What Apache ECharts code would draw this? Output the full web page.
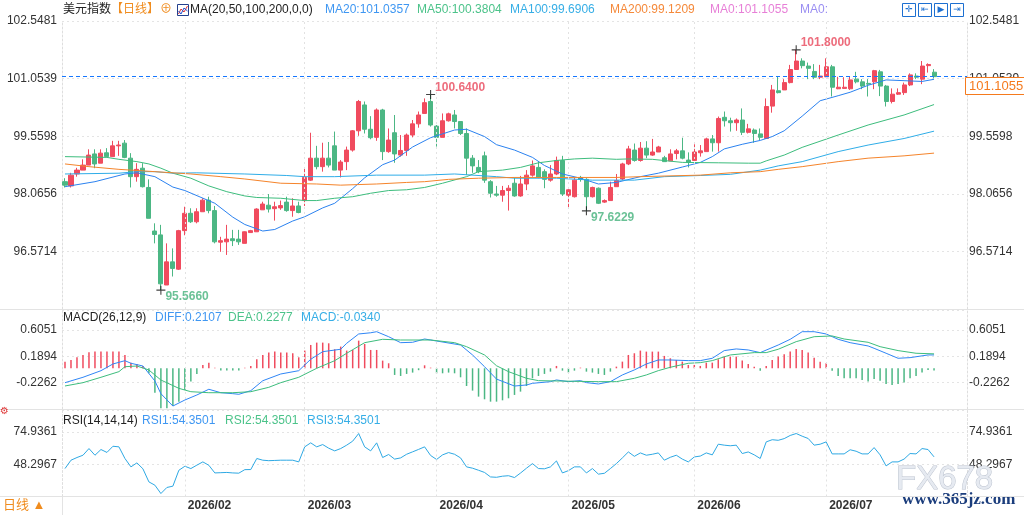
<!DOCTYPE html>
<html><head><meta charset="utf-8">
<script src="https://cdn.jsdelivr.net/npm/echarts/dist/echarts.min.js"></script>
<style>html,body{margin:0;padding:0;background:#fff}#c{width:1024px;height:515px}</style>
</head><body><div id="c"></div>
<script>
// ---------- data ----------
const startDate = '2026-01-05';
const extraSlots = 5;
const open = [98.38,98.27,98.58,98.68,98.81,99.10,98.86,99.13,99.03,99.31,
99.38,98.99,98.51,98.73,98.23,97.10,97.00,95.70,96.30,96.11,
97.11,97.56,97.34,97.60,97.90,97.63,96.81,96.82,96.90,96.89,
96.78,97.06,97.08,97.65,97.77,97.68,97.70,97.85,97.63,97.75,
97.89,98.42,98.99,98.77,98.99,99.31,98.68,98.90,99.20,99.70,
100.37,99.74,99.53,100.24,99.16,99.65,99.07,99.19,99.59,99.88,
100.15,100.46,99.82,99.53,99.96,100.11,99.94,99.63,98.99,98.75,
99.05,98.38,98.06,98.03,98.15,98.34,98.01,98.32,98.55,98.75,
98.64,98.42,98.58,98.93,98.03,97.99,98.49,98.44,97.99,98.21,
97.85,97.89,98.25,98.45,98.84,99.20,98.93,99.25,99.07,99.15,
99.00,98.92,99.11,99.18,98.94,98.93,99.13,99.16,99.49,99.39,
100.05,99.96,99.91,99.98,99.66,99.72,99.62,99.50,100.34,100.74,
100.76,100.95,101.29,101.51,101.38,101.24,101.09,101.10,101.36,100.79,
100.80,100.79,101.04,100.97,100.93,100.97,101.23,100.86,100.46,100.65,
100.69,100.89,101.12,101.04,101.39,101.22];
const close = [98.29,98.55,98.68,98.81,99.07,98.84,99.12,99.03,99.31,99.33,
99.01,98.51,98.70,98.25,97.43,97.01,95.73,96.30,96.13,97.11,
97.56,97.34,97.60,97.90,97.63,96.82,96.85,96.89,96.85,96.82,
97.08,97.11,97.67,97.80,97.67,97.73,97.76,97.63,97.75,97.58,
98.49,98.99,98.77,98.99,98.81,98.68,98.89,99.20,99.70,100.46,
99.74,99.52,100.24,99.16,99.46,99.10,99.19,99.59,99.88,100.11,
100.43,99.85,99.53,99.96,100.14,99.94,99.63,98.99,98.79,98.64,
98.42,98.08,98.03,98.15,98.21,98.01,98.32,98.55,98.79,98.49,
98.44,98.58,98.93,98.06,98.17,98.42,98.44,97.99,98.23,97.82,
97.89,98.23,98.41,98.84,99.23,98.93,99.25,99.07,99.15,99.28,
98.90,99.10,99.18,98.99,98.88,99.15,99.18,99.49,99.39,100.02,
99.96,99.91,99.98,99.66,99.75,99.63,99.53,100.33,100.76,100.69,
100.95,101.29,101.51,101.39,101.32,101.09,101.12,101.36,100.83,100.83,
100.83,101.02,100.97,100.86,100.91,101.26,100.86,100.46,100.65,100.69,
100.89,101.15,101.09,101.38,101.42,101.1055];
const low = [98.23,98.23,98.51,98.68,98.81,98.73,98.86,99.03,99.03,99.05,
98.99,98.23,98.38,98.23,97.43,96.78,95.566,95.70,95.92,96.09,
96.99,97.31,97.30,97.60,97.56,96.78,96.56,96.48,96.71,96.74,
96.78,97.06,97.08,97.65,97.58,97.37,97.65,97.60,97.47,97.56,
97.75,98.40,98.70,98.64,98.75,98.68,98.49,98.68,99.16,99.57,
99.63,99.48,99.44,98.94,99.13,98.87,99.03,99.05,99.53,99.78,
100.15,99.81,99.29,99.53,99.94,99.76,99.59,98.55,98.61,98.60,
98.35,97.97,97.99,97.86,97.63,97.99,97.99,98.16,98.51,98.47,
98.21,98.38,98.55,98.01,97.72,97.97,98.38,97.6229,97.97,97.80,
97.83,97.89,98.25,98.42,98.81,98.90,98.90,98.99,99.05,99.15,
98.90,98.92,98.96,98.96,98.75,98.92,99.03,99.16,99.16,99.16,
99.81,99.68,99.70,99.59,99.63,99.39,99.46,99.50,100.17,100.67,
100.76,100.93,101.29,101.32,101.04,101.04,101.04,101.10,100.59,100.78,
100.79,100.76,100.93,100.78,100.59,100.78,100.60,100.33,100.41,100.63,
100.63,100.86,101.04,100.91,101.21,101.06];
const high = [98.47,98.61,98.74,98.96,99.22,99.22,99.22,99.25,99.44,99.44,
99.46,99.12,98.86,98.86,98.44,97.30,97.26,96.78,96.65,97.13,
97.73,97.69,97.69,97.95,97.99,97.75,96.95,97.26,97.13,97.13,
97.09,97.13,97.69,97.86,98.06,97.86,97.89,97.99,97.95,97.86,
98.73,99.65,99.31,99.39,99.41,99.68,98.94,99.29,99.72,100.50,
100.46,100.08,100.28,100.27,99.76,100.11,99.59,99.63,99.98,100.20,
100.54,100.64,99.85,100.15,100.17,100.24,99.94,99.76,99.07,98.94,
99.16,98.42,98.27,98.27,98.29,98.49,98.53,98.68,98.93,98.90,
98.70,98.81,99.03,99.05,98.21,98.49,98.53,98.47,98.25,98.23,
97.92,98.38,98.58,98.87,99.31,99.37,99.41,99.43,99.49,99.31,
99.05,99.22,99.23,99.52,99.14,99.35,99.33,99.52,99.59,100.07,
100.20,100.04,100.02,100.28,99.88,99.76,99.76,100.54,100.89,101.10,
101.04,101.41,101.80,101.58,101.47,101.43,101.41,101.58,101.41,101.10,
101.09,101.10,101.23,101.04,101.04,101.28,101.28,100.89,100.80,100.80,
100.95,101.19,101.19,101.51,101.45,101.30];

// moving averages: [candle index, value]
const ma20 = [[0,98.25],[5,98.38],[10,98.58],[12,98.61],[15,98.51],[18,98.24],[20,98.15],[25,97.82],[28,97.46],[30,97.27],[33,97.10],[35,97.14],[38,97.36],[40,97.47],[43,97.70],[45,97.82],[48,98.20],[50,98.48],[53,98.82],[55,98.94],[58,99.28],[61,99.52],[65,99.72],[67,99.74],[70,99.55],[72,99.34],[75,99.20],[78,99.01],[80,98.80],[83,98.58],[86,98.47],[89,98.32],[92,98.36],[96,98.51],[99,98.60],[103,98.76],[106,98.88],[108,99.03],[110,99.23],[113,99.35],[116,99.45],[118,99.55],[120,99.70],[123,100.08],[126,100.48],[129,100.61],[131,100.70],[134,100.88],[137,101.02],[140,101.00],[143,100.98],[145,101.0357]];
const ma50 = [[0,99.03],[7,99.01],[9,98.96],[12,98.90],[14,98.84],[16,98.73],[18,98.60],[21,98.47],[24,98.27],[27,98.12],[30,98.01],[32,97.97],[36,97.95],[40,97.89],[42,97.89],[45,97.95],[48,97.99],[51,98.08],[54,98.15],[57,98.17],[60,98.23],[63,98.34],[67,98.51],[69,98.64],[73,98.68],[76,98.75],[79,98.87],[82,98.93],[85,98.97],[88,98.99],[92,98.96],[94,98.97],[98,98.96],[103,98.88],[109,98.87],[114,98.86],[116,98.86],[117,98.92],[120,99.07],[123,99.27],[129,99.59],[134,99.85],[140,100.11],[145,100.3804]];
const ma100 = [[0,98.58],[9,98.60],[12,98.64],[15,98.64],[18,98.60],[22,98.61],[30,98.58],[37,98.54],[40,98.51],[45,98.51],[52,98.55],[60,98.55],[65,98.58],[72,98.51],[75,98.47],[82,98.47],[88,98.42],[95,98.42],[100,98.51],[106,98.54],[111,98.57],[116,98.68],[119,98.79],[123,98.90],[129,99.16],[134,99.33],[140,99.50],[145,99.6906]];
const ma200 = [[0,98.84],[4,98.77],[9,98.70],[15,98.64],[21,98.58],[26,98.51],[30,98.45],[36,98.34],[42,98.32],[46,98.29],[52,98.32],[57,98.36],[60,98.38],[64,98.44],[69,98.47],[75,98.49],[82,98.49],[92,98.49],[96,98.51],[106,98.55],[111,98.61],[116,98.64],[119,98.70],[123,98.77],[129,98.90],[134,98.99],[140,99.05],[145,99.1209]];

// MACD
const macdHist = [0.105,0.131,0.173,0.210,0.252,0.263,0.263,0.263,0.263,0.263,
0.210,0.089,0.068,0.037,-0.079,-0.384,-0.631,-0.631,-0.594,-0.526,
-0.342,-0.210,-0.089,0.053,0.089,0.010,-0.035,-0.035,-0.035,-0.035,
0.010,0.037,0.142,0.210,0.247,0.263,0.247,0.247,0.237,0.173,
0.279,0.368,0.405,0.405,0.394,0.300,0.342,0.279,0.289,0.436,
0.384,0.289,0.289,0.121,0.079,-0.105,-0.121,-0.089,-0.068,-0.030,
0.047,0.010,-0.079,-0.079,-0.068,-0.079,-0.142,-0.279,-0.352,-0.447,
-0.489,-0.526,-0.526,-0.505,-0.473,-0.420,-0.368,-0.279,-0.158,-0.121,
-0.089,-0.053,0.037,-0.037,-0.068,-0.037,0.010,-0.053,-0.068,-0.089,
-0.105,-0.053,0.026,0.105,0.210,0.237,0.279,0.263,0.263,0.263,
0.195,0.158,0.131,0.105,0.053,0.053,0.037,0.089,0.089,0.142,
0.184,0.184,0.184,0.121,0.068,0.026,-0.037,0.037,0.131,0.184,
0.221,0.263,0.305,0.289,0.247,0.168,0.105,0.079,-0.037,-0.121,
-0.158,-0.158,-0.158,-0.184,-0.210,-0.168,-0.195,-0.247,-0.263,-0.247,
-0.226,-0.158,-0.121,-0.068,-0.026,-0.034];
const diff = [[0,-0.227],[3,-0.142],[6,-0.038],[8,0.068],[10,0.120],[11,0.079],[13,0.036],[15,-0.20],[16,-0.40],[18,-0.595],[20,-0.50],[22,-0.421],[24,-0.331],[26,-0.385],[28,-0.40],[29,-0.41],[31,-0.353],[33,-0.196],[36,-0.090],[39,-0.038],[41,0.142],[43,0.262],[46,0.300],[47,0.394],[49,0.541],[51,0.56],[52,0.577],[54,0.498],[56,0.404],[58,0.41],[60,0.462],[62,0.43],[66,0.367],[68,0.21],[70,0.025],[72,-0.17],[75,-0.28],[77,-0.263],[78,-0.237],[81,-0.211],[82,-0.184],[84,-0.211],[86,-0.195],[87,-0.226],[89,-0.247],[91,-0.211],[93,-0.105],[95,-0.026],[97,0.068],[99,0.131],[101,0.131],[104,0.121],[106,0.121],[108,0.158],[110,0.279],[112,0.305],[114,0.289],[116,0.247],[119,0.367],[121,0.457],[123,0.577],[125,0.577],[127,0.541],[129,0.457],[131,0.404],[134,0.352],[135,0.315],[137,0.237],[139,0.158],[141,0.168],[144,0.21],[145,0.2107]];
const dea = [[0,-0.279],[3,-0.227],[6,-0.142],[9,-0.053],[10,0.025],[12,0.036],[14,-0.027],[16,-0.185],[19,-0.316],[21,-0.369],[24,-0.385],[28,-0.385],[31,-0.369],[34,-0.30],[36,-0.227],[39,-0.142],[42,0.0],[45,0.120],[47,0.237],[50,0.404],[53,0.457],[56,0.446],[61,0.446],[65,0.404],[67,0.341],[70,0.21],[72,0.04],[74,-0.053],[77,-0.158],[79,-0.195],[85,-0.205],[89,-0.211],[92,-0.211],[95,-0.158],[97,-0.105],[99,-0.037],[101,0.016],[104,0.079],[106,0.089],[108,0.121],[111,0.21],[115,0.247],[117,0.247],[119,0.30],[122,0.42],[125,0.498],[128,0.51],[130,0.462],[134,0.41],[136,0.341],[139,0.279],[142,0.237],[145,0.2277]];

// RSI
const rsi = [44.7,51.6,53.8,55.7,61.2,55.7,60.4,58.0,63.1,62.6,
53.0,46.1,49.4,44.5,33.7,31.0,24.1,29.1,30.2,43.3,
46.6,44.7,47.5,50.2,47.4,41.1,41.3,41.5,41.1,40.9,
43.8,43.9,53.0,51.6,51.2,51.4,51.6,51.6,51.6,50.2,
62.6,65.9,62.6,64.5,61.5,59.3,61.2,64.0,67.3,73.6,
62.6,59.3,65.9,53.8,56.3,52.5,53.5,56.5,58.5,60.5,
62.6,55.5,52.2,56.0,57.9,56.5,53.5,46.1,45.0,43.3,
41.5,37.8,37.5,38.4,38.8,37.3,41.0,45.0,48.8,44.7,
44.5,46.1,51.0,41.1,43.0,46.1,46.1,41.1,44.7,40.1,
40.8,44.7,48.8,53.5,58.4,54.8,57.6,55.7,56.5,57.6,
51.6,54.0,55.7,52.5,50.2,54.3,55.0,57.6,56.0,64.8,
64.0,63.5,64.0,57.1,58.4,56.0,53.0,66.7,68.5,68.0,
69.4,72.0,73.6,71.4,69.5,64.0,64.8,66.7,56.8,56.8,
56.8,60.2,59.0,56.8,56.8,62.0,56.0,46.9,50.2,50.2,
52.5,57.1,56.8,61.2,60.4,54.35];

// tick labels
const mainTicks = ['102.5481','101.0539','99.5598','98.0656','96.5714'];
const macdTicks = ['0.6051','0.1894','-0.2262'];
const rsiTicks = ['74.9361','48.2967'];

// highlighted extremes: candle index and kind
const markIdx = [122, 61, 87, 16];
const markKind = ['high','high','low','low'];

// legend values
const maLegend = ['MA20:101.0357','MA50:100.3804','MA100:99.6906','MA200:99.1209','MA0:101.1055','MA0:'];
const macdLegend = ['DIFF:0.2107','DEA:0.2277','MACD:-0.0340'];
const rsiLegend = ['RSI1:54.3501','RSI2:54.3501','RSI3:54.3501'];

// ---------- build ----------
function tradingDays(start, n){
  const out=[]; const d=new Date(start+'T00:00:00Z');
  while(out.length<n){ const w=d.getUTCDay(); if(w!==0&&w!==6) out.push(d.toISOString().slice(0,10)); d.setUTCDate(d.getUTCDate()+1); }
  return out;
}
const dates = tradingDays(startDate, open.length + extraSlots);
const monthStarts = [];
for(let i=1;i<open.length;i++){ if(dates[i].slice(5,7)!==dates[i-1].slice(5,7)) monthStarts.push(i); }
const isMonthStart = i => monthStarts.indexOf(i) >= 0;

const FF = '"Liberation Sans", Arial, "Noto Sans CJK SC", sans-serif';
const RED = '#f04b5e', GREEN = '#4cb784';
const lastClose = close[close.length-1];

function tickFmt(list){ return function(v){ for(const t of list){ if(Math.abs(v-parseFloat(t))<0.002) return t; } return ''; }; }
function yAx(gi, pos, min, max, interval, ticks, split){
  return {type:'value', gridIndex:gi, position:pos, min:min, max:max, interval:interval,
    axisLine:{show:true, lineStyle:{color:'#dedede', type:[2,2], width:1}},
    axisTick:{show:false},
    splitLine:{show:split, lineStyle:{color:'#e4e4e4', type:[2,3], width:1}},
    axisLabel:{show:true, color:'#333', fontSize:12, fontFamily:FF, margin:(pos==='left'?5:2),
      showMinLabel:true, showMaxLabel:true, formatter:tickFmt(ticks)}};
}
function xAx(gi, showLabel){
  return {type:'category', gridIndex:gi, data:dates, boundaryGap:true,
    axisLine:{show:false}, axisTick:{show:false}, splitLine:{show:false},
    axisLabel: showLabel ? {show:true, interval:function(i){return isMonthStart(i);}, align:'left',
      padding:[0,0,0,3], margin:3, color:'#333', fontSize:12, fontWeight:'bold', fontFamily:FF,
      formatter:function(v){return v.slice(0,4)+'/'+v.slice(5,7);}} : {show:false}};
}
const monthLineData = monthStarts.map(i => ({xAxis: dates[i], lineStyle:{color:'#e2e2e2', type:[2,3], width:1}}));
function monthMark(extra){
  return {silent:true, symbol:['none','none'], label:{show:false}, animation:false,
    data: monthLineData.concat(extra||[])};
}

const plusPath = 'path://M0,4.4H10V5.6H0Z M4.4,0H5.6V10H4.4Z';

const option = {
  animation:false,
  backgroundColor:'#fff',
  grid:[
    {left:62, right:57, top:21, height:288, containLabel:false, outerBoundsMode:'none'},
    {left:62, right:57, top:310, height:99, containLabel:false, outerBoundsMode:'none'},
    {left:62, right:57, top:410, height:86.5, containLabel:false, outerBoundsMode:'none'}
  ],
  xAxis:[xAx(0,false), xAx(1,false), xAx(2,true)],
  yAxis:[
    yAx(0,'left',95.0772,102.5482,1.4942,mainTicks,true),
    yAx(0,'right',95.0772,102.5482,1.4942,mainTicks,false),
    yAx(1,'left',-0.6419,0.919,0.4157,macdTicks,true),
    yAx(1,'right',-0.6419,0.919,0.4157,macdTicks,false),
    yAx(2,'left',21.6573,93.0,26.6394,rsiTicks,true),
    yAx(2,'right',21.6573,93.0,26.6394,rsiTicks,false)
  ],
  series:[
    {type:'candlestick', xAxisIndex:0, yAxisIndex:0, barWidth:'76%',
      data: open.map((o,i)=>[o, close[i], low[i], high[i]]),
      itemStyle:{color:RED, color0:GREEN, borderColor:RED, borderColor0:GREEN, borderWidth:1},
      markLine: monthMark([{yAxis:lastClose, lineStyle:{color:'#1677ff', type:[4,3], width:1.2}}])},
    {type:'line', name:'MA20', xAxisIndex:0, yAxisIndex:0, data:ma20, showSymbol:false, lineStyle:{color:'#2b82f0', width:1}, z:3},
    {type:'line', name:'MA50', xAxisIndex:0, yAxisIndex:0, data:ma50, showSymbol:false, lineStyle:{color:'#3dbd7d', width:1}, z:3},
    {type:'line', name:'MA100', xAxisIndex:0, yAxisIndex:0, data:ma100, showSymbol:false, lineStyle:{color:'#2fade8', width:1}, z:3},
    {type:'line', name:'MA200', xAxisIndex:0, yAxisIndex:0, data:ma200, showSymbol:false, lineStyle:{color:'#f5842b', width:1}, z:3},
    {type:'scatter', xAxisIndex:0, yAxisIndex:0, symbol:plusPath, symbolSize:9, z:6,
      itemStyle:{color:'#111'},
      data: markIdx.map((ix,k)=>{ const hi = markKind[k]==='high'; const v = hi? high[ix] : low[ix];
        return {value:[ix, v], label:{show:true, position:'right', distance:0, offset:[0, hi?-7:7],
          formatter:v.toFixed(4), color: hi?'#e8475b':'#45b27c', fontSize:12, fontWeight:'bold', fontFamily:FF}}; })},
    {type:'bar', xAxisIndex:1, yAxisIndex:2, barWidth:1.5,
      data: macdHist.map(v=>({value:v, itemStyle:{color: v>=0?RED:GREEN}})),
      markLine: monthMark()},
    {type:'line', name:'DIFF', xAxisIndex:1, yAxisIndex:2, data:diff, showSymbol:false, lineStyle:{color:'#2f86f6', width:1}, z:3},
    {type:'line', name:'DEA', xAxisIndex:1, yAxisIndex:2, data:dea, showSymbol:false, lineStyle:{color:'#3dbd7d', width:1}, z:3},
    {type:'line', name:'RSI', xAxisIndex:2, yAxisIndex:4, data:rsi, showSymbol:false, lineStyle:{color:'#2ea9e4', width:1},
      markLine: monthMark()}
  ]
};

const chart = echarts.init(document.getElementById('c'), null, {width:1024, height:515});
chart.setOption(option);

function txt(x, y, s, color, size, extra){
  return Object.assign({type:'text', x:x, y:y, z:100, silent:true,
    style:{text:s, fill:color, font:(size||12)+'px '+FF, verticalAlign:'middle', align:'left'}}, extra||{});
}
function hline(y, x1, x2, color){ return {type:'line', z:90, silent:true, shape:{x1:x1,y1:y,x2:x2,y2:y}, style:{stroke:color||'#e3e3e3', lineWidth:1}}; }

const tagY = chart.convertToPixel({yAxisIndex:0}, lastClose);
const legendCols = ['#3f97f2','#4cc38a','#36aee6','#f5893a','#e77fd7','#9a8ef2'];
const legendX = [325,417,510,610,710,800];
const g = [];
g.push(txt(63,10,'美元指数','#222',12));
g.push(txt(111,10,'【日线】','#f08c1e',12));
g.push(txt(160,10,'⊕','#f08c1e',12));
g.push({type:'rect', z:100, shape:{x:177.5,y:4.5,width:11,height:11}, style:{fill:'#fff', stroke:'#23408e', lineWidth:1}});
g.push({type:'polyline', z:101, shape:{points:[[178.5,14],[181,9],[184,12],[187.5,6]]}, style:{stroke:'#e03030', fill:null, lineWidth:1}});
g.push({type:'polyline', z:101, shape:{points:[[178.5,11],[181,14],[184,8],[187.5,11]]}, style:{stroke:'#2050d0', fill:null, lineWidth:1}});
g.push(txt(190,10,'MA(20,50,100,200,0,0)','#222',12));
maLegend.forEach((s,i)=>g.push(txt(legendX[i],10,s,legendCols[i],12)));
// toolbar icons
const icons = ['✛','⇤','▶','⇥'];
[902,918,934,950].forEach((x,i)=>{
  g.push({type:'rect', z:100, shape:{x:x+0.5,y:3.5,width:13,height:13}, style:{fill:'#fff', stroke:'#1c6fd1', lineWidth:1}});
  g.push({type:'text', z:101, x:x+7, y:10, style:{text:icons[i], fill:'#1c6fd1', font:'9px "DejaVu Sans"', align:'center', verticalAlign:'middle'}});
});
// panel legends
g.push(txt(63,318,'MACD(26,12,9)','#222',12));
[155,228,301].forEach((x,i)=>g.push(txt(x,318,macdLegend[i],['#3f97f2','#4cc38a','#36aee6'][i],12)));
g.push(txt(63,421,'RSI(14,14,14)','#222',12));
[142,225,307].forEach((x,i)=>g.push(txt(x,421,rsiLegend[i],['#3f97f2','#4cc38a','#36aee6'][i],12)));
// separators
g.push(hline(309.5,0,1024));
g.push(hline(409.5,0,1024));
g.push(hline(496.5,0,1024));
g.push({type:'line', z:90, silent:true, shape:{x1:62.5,y1:496.5,x2:62.5,y2:515}, style:{stroke:'#e3e3e3', lineWidth:1}});
g.push(txt(3,505,'日线 ▲','#f08c1e',13));
g.push({type:'text', z:100, x:0, y:411, style:{text:'⚙', fill:'#e03a3a', font:'10px "DejaVu Sans"', verticalAlign:'middle'}});
// watermark
g.push({type:'text', z:80, x:896, y:480, silent:true, style:{text:'FX678', fill:'#e6eaf1', stroke:'#bcc3cf', lineWidth:1, font:'33px '+FF, verticalAlign:'middle'}});
g.push({type:'text', z:80, x:902, y:500, silent:true, style:{text:'www.365jz.com', fill:'#1b3d7c', font:'bold 17px "Liberation Serif", serif', verticalAlign:'middle'}});
// last price tag
g.push({type:'rect', z:110, shape:{x:965.5, y:Math.round(tagY)+0.5, width:60, height:17}, style:{fill:'#fff', stroke:'#f57a1d', lineWidth:1}});
g.push({type:'text', z:111, x:969, y:Math.round(tagY)+9.5, style:{text:lastClose.toFixed(4), fill:'#f57a1d', font:'13px '+FF, verticalAlign:'middle'}});

chart.setOption({graphic: g});
</script></body></html>
